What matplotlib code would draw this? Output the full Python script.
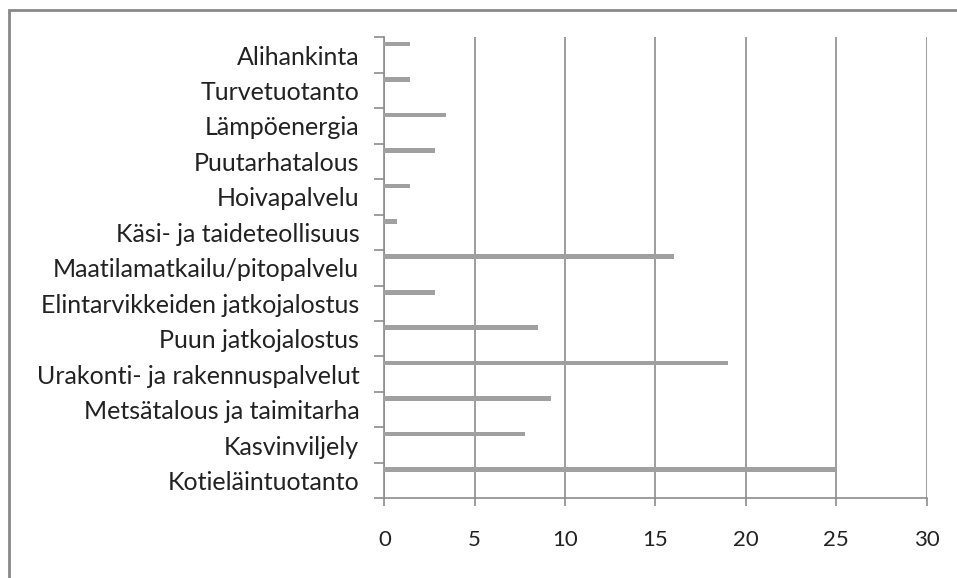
import matplotlib.pyplot as plt
from matplotlib.patches import Rectangle
import numpy as np

# categories bottom -> top, as in the chart
categories = ["Kotieläintuotanto", "Kasvinviljely", "Metsätalous ja taimitarha",
              "Urakonti- ja rakennuspalvelut", "Puun jatkojalostus",
              "Elintarvikkeiden jatkojalostus", "Maatilamatkailu/pitopalvelu",
              "Käsi- ja taideteollisuus", "Hoivapalvelu", "Puutarhatalous",
              "Lämpöenergia", "Turvetuotanto", "Alihankinta"]
values = [25.0, 7.8, 9.2, 19.0, 8.5, 2.8, 16.0, 0.7, 1.4, 2.8, 3.4, 1.4, 1.4]
x_ticks = [0, 5, 10, 15, 20, 25, 30]

plt.rcParams['font.family'] = ['Lato', 'DejaVu Sans']

fig = plt.figure(figsize=(9.57, 5.78), dpi=100)
ax = fig.add_axes([0.4016, 0.1379, 0.9683 - 0.4016, 0.9355 - 0.1379])

gray = '#8c8c8c'
pos = np.arange(len(categories))
# bars sit near the top of each category band (Excel style)
ax.barh(pos + 0.31, values, height=0.13, color='#a0a0a0', zorder=3)

ax.set_xlim(0, 30)
ax.set_ylim(-0.5, len(categories) - 0.5)
ax.set_xticks(x_ticks)
ax.set_xticklabels([str(t) for t in x_ticks], fontsize=16, color='#222222')
ax.set_yticks(pos)
ax.set_yticklabels(categories, fontsize=18, color='#222222')
ax.set_yticks(np.arange(len(categories) + 1) - 0.5, minor=True)

ax.tick_params(axis='y', which='major', length=0, pad=18)
ax.tick_params(axis='y', which='minor', length=7, width=1.2, color=gray, direction='out')
ax.tick_params(axis='x', which='major', length=6, width=1.2, color=gray, direction='out', pad=17)

ax.grid(axis='x', color=gray, linewidth=1.2, zorder=0)
for s in ['top', 'right']:
    ax.spines[s].set_visible(False)
for s in ['left', 'bottom']:
    ax.spines[s].set_color(gray)
    ax.spines[s].set_linewidth(1.2)

# outer chart frame, cut off at right and bottom
fig.patches.append(Rectangle((8.5 / 957, -0.2), 1.2, 1.2 - 9.5 / 578,
                             transform=fig.transFigure, fill=False,
                             edgecolor='#888888', linewidth=2))

fig.savefig('out.png', dpi=100)
